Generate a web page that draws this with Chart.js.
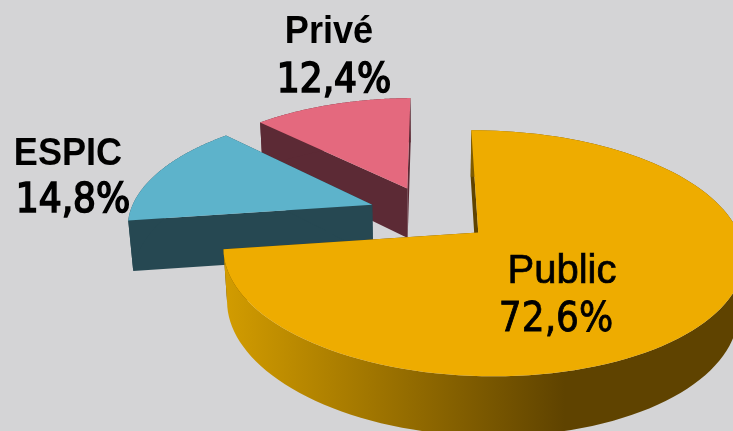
<!DOCTYPE html>
<html>
<head>
<meta charset="utf-8">
<script src="https://cdn.jsdelivr.net/npm/chart.js@4"></script>
<style>
html,body{margin:0;padding:0;background:#d4d4d6;overflow:hidden}
canvas{display:block}
</style>
</head>
<body>
<canvas id="c" width="733" height="431"></canvas>
<script>
const categories = ['Public', 'ESPIC', 'Privé'];
const shares = [72.6, 14.8, 12.4];
const shareLabels = ['72,6%', '14,8%', '12,4%'];
const topColors = ['#eeac00', '#5db3cb', '#e4697e'];
const sideColors = ['#5f4300', '#264852', '#5c2a35'];

// View of the tilted pie (perspective camera)
const view = {cx: 430, cy: 213.5, a: 248, b: 112.8, q: 0.164, yaw: -0.015, depth: 52, sink: 0.017, explode: 0.25};
const labelStyle = [
  {nameX: 562, valueX: 556, y1: 283, y2: 331, nameFont: '40px "Liberation Sans"', nameScale: 1, nameWeight: 0.7, valueWeight: 0.8},
  {nameX: 68, valueX: 73, y1: 165, y2: 212, nameFont: 'bold 38px "Liberation Sans"', nameScale: 0.95, nameWeight: 0, valueWeight: 1.6},
  {nameX: 329, valueX: 334, y1: 43, y2: 92, nameFont: 'bold 38px "Liberation Sans"', nameScale: 0.95, nameWeight: 0, valueWeight: 1.6}
];
const valueFont = '40px "DejaVu Sans Condensed", "DejaVu Sans"';

function project(u, v, lower) {
  const w = 1 + view.q * v + view.yaw * u + (lower ? view.sink : 0);
  return [view.cx + view.a * u / w, view.cy + (-view.b * v + (lower ? view.depth : 0)) / w];
}

const pie3d = {
  id: 'pie3d',
  beforeDatasetDraw(chart) {
    const ctx = chart.ctx;
    const arcs = chart.getDatasetMeta(0).data;
    const wallGradient = ctx.createLinearGradient(225, 0, 565, 0);
    wallGradient.addColorStop(0, '#d29c00');
    wallGradient.addColorStop(1, sideColors[0]);
    [2, 1, 0].forEach(i => {
      const arc = arcs[i];
      const mid = (arc.startAngle + arc.endAngle) / 2;
      const ou = view.explode * Math.cos(mid), ov = -view.explode * Math.sin(mid);
      const pts = [];
      const n = 120;
      for (let k = 0; k <= n; k++) {
        const t = arc.startAngle + (arc.endAngle - arc.startAngle) * k / n;
        pts.push([ou + Math.cos(t), ov - Math.sin(t)]);
      }
      const poly = (list, fill) => {
        ctx.beginPath();
        list.forEach((p, j) => j ? ctx.lineTo(p[0], p[1]) : ctx.moveTo(p[0], p[1]));
        ctx.closePath();
        ctx.fillStyle = fill;
        ctx.fill();
      };
      const P = p => project(p[0], p[1], false);
      const L = p => project(p[0], p[1], true);
      const apex = [ou, ov];
      // radial cut faces
      [pts[0], pts[n]].forEach(e => poly([P(apex), P(e), L(e), L(apex)], sideColors[i]));
      // outer wall
      poly(pts.map(P).concat(pts.map(L).reverse()), i === 0 ? wallGradient : sideColors[i]);
      // top surface
      poly([P(apex)].concat(pts.map(P)), topColors[i]);
    });
    return false;
  },
  afterDatasetsDraw(chart) {
    const ctx = chart.ctx;
    ctx.save();
    ctx.textAlign = 'center';
    ctx.textBaseline = 'alphabetic';
    ctx.fillStyle = '#000';
    ctx.strokeStyle = '#000';
    const put = (text, x, y, font, weight, scale) => {
      ctx.save();
      ctx.translate(x, y);
      ctx.scale(scale, 1);
      ctx.font = font;
      ctx.fillText(text, 0, 0);
      if (weight > 0) { ctx.lineWidth = weight; ctx.strokeText(text, 0, 0); }
      ctx.restore();
    };
    categories.forEach((name, i) => {
      const s = labelStyle[i];
      put(name, s.nameX, s.y1, s.nameFont, s.nameWeight, s.nameScale);
      put(shareLabels[i], s.valueX, s.y2, valueFont, s.valueWeight, 1);
    });
    ctx.restore();
  }
};

new Chart(document.getElementById('c'), {
  type: 'pie',
  data: {labels: categories, datasets: [{data: shares, backgroundColor: topColors, borderWidth: 0}]},
  options: {
    responsive: false,
    animation: false,
    plugins: {legend: {display: false}, tooltip: {enabled: false}, title: {display: false}}
  },
  plugins: [pie3d]
});
</script>
</body>
</html>
